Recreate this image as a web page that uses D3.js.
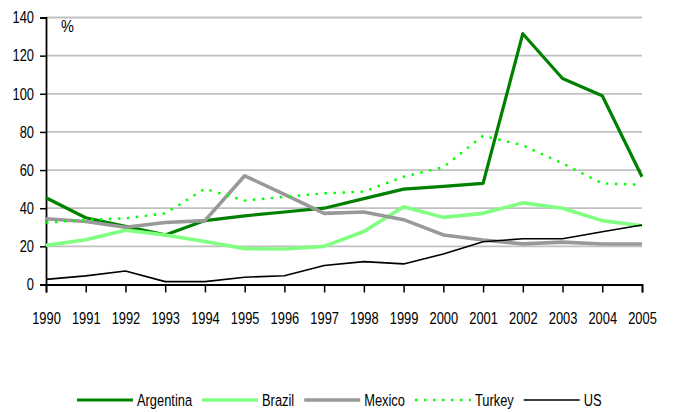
<!DOCTYPE html>
<html>
<head>
<meta charset="utf-8">
<script src="https://cdn.jsdelivr.net/npm/d3@7"></script>
<style>
  body { margin: 0; background: #fff; }
  svg { display: block; }
  text { font-family: 'Liberation Sans', Arial, sans-serif; fill: #000; }
</style>
</head>
<body>
<main></main>
<script>
const years = [1990, 1991, 1992, 1993, 1994, 1995, 1996, 1997, 1998, 1999, 2000, 2001, 2002, 2003, 2004, 2005];
const yTicks = [0, 20, 40, 60, 80, 100, 120, 140];

const argentina = [45.5, 35, 30.5, 26, 33.5, 36, 38, 40, 45, 50, 51.5, 53, 131.5, 108, 99, 56.5];
const brazil = [20.5, 23.5, 28.5, 26, 22.5, 18.8, 18.6, 20, 27.8, 40.8, 35.2, 37.3, 42.8, 40, 33.5, 30.8];
const mexico = [34.5, 33, 30, 32.5, 33.5, 57, 47.3, 37.3, 38, 34, 26, 23.3, 21.3, 22.2, 21.2, 21.2];
const turkey = [32.5, 33.8, 34.7, 37.3, 50.2, 44, 46, 47.8, 48.7, 56.5, 61.5, 78, 73, 63.5, 53, 52.3];
const us = [2.7, 4.5, 7.1, 1.5, 1.5, 3.8, 4.6, 10, 12, 10.8, 16, 22.4, 24, 24, 27.7, 31.2];

const seriesNames = ['Argentina', 'Brazil', 'Mexico', 'Turkey', 'US'];
const seriesValues = [argentina, brazil, mexico, turkey, us];

const width = 674;
const height = 412;
const plotLeft = 46;
const plotRight = 642;
const plotTop = 17.5;
const plotBottom = 284.5;
const squeeze = 0.78; // the original uses a narrow font
const fontSize = '16.5px';

const styles = {
  Argentina: { color: '#008000', width: 3.2, dash: null },
  Brazil: { color: '#80ff80', width: 3.6, dash: null },
  Mexico: { color: '#999999', width: 3.6, dash: null },
  Turkey: { color: '#00ff00', width: 2.4, dash: '2.5,6.5' },
  US: { color: '#000000', width: 1.6, dash: null }
};

const xScale = d3.scalePoint()
  .domain(years)
  .range([plotLeft, plotRight]);

const yScale = d3.scaleLinear()
  .domain([0, 140])
  .range([plotBottom, plotTop]);

const svg = d3.select('main')
  .append('svg')
  .attr('width', width)
  .attr('height', height);

// gridlines
svg.append('g')
  .selectAll('line')
  .data(yTicks.filter(d => d > 0))
  .enter()
  .append('line')
  .attr('x1', plotLeft)
  .attr('x2', plotRight)
  .attr('y1', d => yScale(d))
  .attr('y2', d => yScale(d))
  .style('stroke', '#c0c0c0')
  .style('stroke-width', 1.8);

// y-axis
const yAxis = svg.append('g')
  .attr('transform', `translate(${plotLeft}, 0)`)
  .call(d3.axisLeft(yScale).tickValues(yTicks).tickSize(6).tickPadding(6));

// x-axis
const xAxis = svg.append('g')
  .attr('transform', `translate(0, ${plotBottom})`)
  .call(d3.axisBottom(xScale).tickSize(8).tickPadding(20));

[xAxis, yAxis].forEach(ax => {
  ax.select('.domain').style('stroke', '#000').style('stroke-width', 1.8);
  ax.selectAll('.tick line').style('stroke', '#000').style('stroke-width', 1.5);
  ax.selectAll('.tick text')
    .style('font-size', fontSize)
    .style('font-family', "'Liberation Sans', Arial, sans-serif");
});

// narrow the tick labels around their anchor
xAxis.selectAll('.tick text')
  .attr('transform', `scale(${squeeze},1)`);
yAxis.selectAll('.tick text')
  .attr('x', -12 / squeeze)
  .attr('transform', `scale(${squeeze},1)`);

svg.append('text')
  .text('%')
  .attr('transform', 'translate(61,32) scale(0.88,1)')
  .style('font-size', fontSize);

// lines
const line = d3.line()
  .x((d, i) => xScale(years[i]))
  .y(d => yScale(d));

svg.append('g')
  .selectAll('path')
  .data(seriesNames)
  .enter()
  .append('path')
  .attr('d', (name, i) => line(seriesValues[i]))
  .style('fill', 'none')
  .style('stroke', name => styles[name].color)
  .style('stroke-width', name => styles[name].width)
  .style('stroke-dasharray', name => styles[name].dash)
  .style('stroke-linejoin', 'round');

// legend
const legend = svg.append('g');
const legendY = 400;
let cursor = 77;
seriesNames.forEach(name => {
  const st = styles[name];
  const item = legend.append('g');
  item.append('line')
    .attr('x1', cursor)
    .attr('x2', cursor + 56)
    .attr('y1', legendY)
    .attr('y2', legendY)
    .style('stroke', st.color)
    .style('stroke-width', st.width)
    .style('stroke-dasharray', st.dash);
  const t = item.append('text')
    .text(name)
    .attr('transform', `translate(${cursor + 60},${legendY + 6}) scale(${squeeze},1)`)
    .style('font-size', fontSize);
  cursor += 60 + t.node().getComputedTextLength() * squeeze + 10;
});
</script>
</body>
</html>
